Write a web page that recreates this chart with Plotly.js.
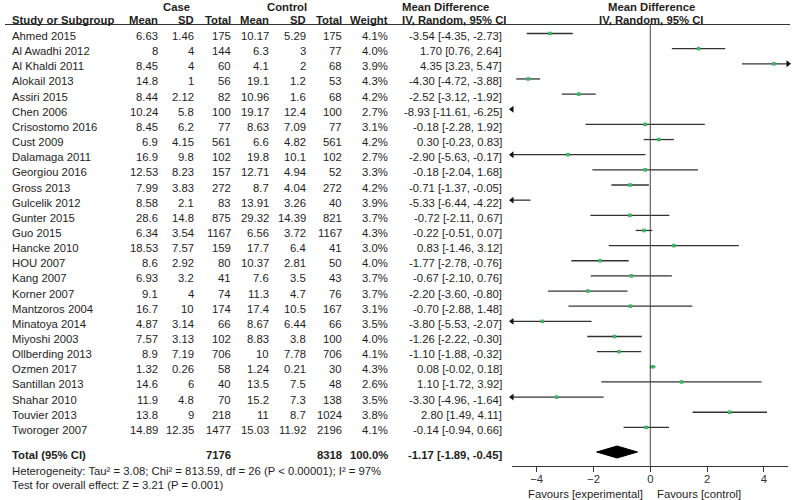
<!DOCTYPE html>
<html><head><meta charset="utf-8">
<script src="https://cdn.plot.ly/plotly-3.0.1.min.js"></script>
<style>html,body{margin:0;padding:0;background:#fff}</style>
</head><body><div id="chart" style="width:800px;height:500px"></div>
<script>
const studies = ["Ahmed 2015","Al Awadhi 2012","Al Khaldi 2011","Alokail 2013","Assiri 2015","Chen 2006","Crisostomo 2016","Cust 2009","Dalamaga 2011","Georgiou 2016","Gross 2013","Gulcelik 2012","Gunter 2015","Guo 2015","Hancke 2010","HOU 2007","Kang 2007","Korner 2007","Mantzoros 2004","Minatoya 2014","Miyoshi 2003","Ollberding 2013","Ozmen 2017","Santillan 2013","Shahar 2010","Touvier 2013","Tworoger 2007"];
const caseMean = [6.63,8,8.45,14.8,8.44,10.24,8.45,6.9,16.9,12.53,7.99,8.58,28.6,6.34,18.53,8.6,6.93,9.1,16.7,4.87,7.57,8.9,1.32,14.6,11.9,13.8,14.89];
const caseSD   = [1.46,4,4,1,2.12,5.8,6.2,4.15,9.8,8.23,3.83,2.1,14.8,3.54,7.57,2.92,3.2,4,10,3.14,3.13,7.19,0.26,6,4.8,9,12.35];
const caseN    = [175,144,60,56,82,100,77,561,102,157,272,83,875,1167,159,80,41,74,174,66,102,706,58,40,70,218,1477];
const ctrlMean = [10.17,6.3,4.1,19.1,10.96,19.17,8.63,6.6,19.8,12.71,8.7,13.91,29.32,6.56,17.7,10.37,7.6,11.3,17.4,8.67,8.83,10,1.24,13.5,15.2,11,15.03];
const ctrlSD   = [5.29,3,2,1.2,1.6,12.4,7.09,4.82,10.1,4.94,4.04,3.26,14.39,3.72,6.4,2.81,3.5,4.7,10.5,6.44,3.8,7.78,0.21,7.5,7.3,8.7,11.92];
const ctrlN    = [175,77,68,53,68,100,77,561,102,52,272,40,821,1167,41,50,43,76,167,66,100,706,30,48,138,1024,2196];
const weight   = [4.1,4.0,3.9,4.3,4.2,2.7,3.1,4.2,2.7,3.3,4.2,3.9,3.7,4.3,3.0,4.0,3.7,3.7,3.1,3.5,4.0,4.1,4.3,2.6,3.5,3.8,4.1];
const md       = [-3.54,1.70,4.35,-4.30,-2.52,-8.93,-0.18,0.30,-2.90,-0.18,-0.71,-5.33,-0.72,-0.22,0.83,-1.77,-0.67,-2.20,-0.70,-3.80,-1.26,-1.10,0.08,1.10,-3.30,2.80,-0.14];
const ciLo     = [-4.35,0.76,3.23,-4.72,-3.12,-11.61,-2.28,-0.23,-5.63,-2.04,-1.37,-6.44,-2.11,-0.51,-1.46,-2.78,-2.10,-3.60,-2.88,-5.53,-2.22,-1.88,-0.02,-1.72,-4.96,1.49,-0.94];
const ciHi     = [-2.73,2.64,5.47,-3.88,-1.92,-6.25,1.92,0.83,-0.17,1.68,-0.05,-4.22,0.67,0.07,3.12,-0.76,0.76,-0.80,1.48,-2.07,-0.30,-0.32,0.18,3.92,-1.64,4.11,0.66];
const totalCaseN = 7176, totalCtrlN = 8318, totalWeight = 100.0;
const totalMD = -1.17, totalLo = -1.89, totalHi = -0.45;
const heterogeneity = "Heterogeneity: Tau² = 3.08; Chi² = 813.59, df = 26 (P < 0.00001); I² = 97%";
const overallTest = "Test for overall effect: Z = 3.21 (P = 0.001)";
const xTicks = [-4,-2,0,2,4];

// ---- layout constants ----
const XMIN = -4.87, XMAX = 4.85;
const W = 800, PH = 466;           // plot height (bottom margin 34)
const ROW0 = 33.5, ROWH = 15.15;   // pixel of first row, row pitch
const yTop = -ROW0/ROWH, yBot = (PH-ROW0)/ROWH;
const TOTAL_Y = (452-ROW0)/ROWH;
const py = p => (PH-p)/PH;         // pixel -> paper y
const FONT = "Liberation Sans, Arial, Helvetica, sans-serif";
const FS = 11.3;
const TXT = "#1e1e1e";

const rows = studies.map((_, i) => i);
const clamp = v => Math.max(XMIN, Math.min(XMAX, v));

// CI lines
const lx = [], ly = [];
rows.forEach(i => { lx.push(clamp(ciLo[i]), clamp(ciHi[i]), null); ly.push(i, i, null); });
const ciTrace = {x: lx, y: ly, mode: 'lines', line: {color: '#333', width: 1.3}, hoverinfo: 'skip'};
const ptTrace = {x: md, y: rows, mode: 'markers', marker: {symbol: 'square', size: 3.6, color: '#3cb864'}, hoverinfo: 'x'};
const leftIdx = rows.filter(i => ciLo[i] < XMIN);
const rightIdx = rows.filter(i => ciHi[i] > XMAX);
const leftArr = {x: leftIdx.map(() => XMIN), y: leftIdx, mode: 'markers', cliponaxis: false,
  marker: {symbol: 'triangle-left', size: 6, color: '#111'}, hoverinfo: 'skip'};
const rightArr = {x: rightIdx.map(() => XMAX), y: rightIdx, mode: 'markers', cliponaxis: false,
  marker: {symbol: 'triangle-right', size: 6, color: '#111'}, hoverinfo: 'skip'};
const dh = 6/ROWH;
const diamond = {x: [totalLo, totalMD, totalHi, totalMD, totalLo], y: [TOTAL_Y, TOTAL_Y-dh, TOTAL_Y, TOTAL_Y+dh, TOTAL_Y],
  mode: 'lines', fill: 'toself', fillcolor: '#000', line: {color: '#000', width: 1}, hoverinfo: 'skip'};

const ann = [];
function t(xpx, y, text, anchor, bold, yref) {
  ann.push({xref: 'paper', yref: yref || 'y', x: xpx/W, y: y, text: bold ? '<b>'+text+'</b>' : text,
    xanchor: anchor, yanchor: 'middle', showarrow: false, borderpad: 0, borderwidth: 0,
    yshift: (yref === 'paper') ? 0 : -2.5, font: {family: FONT, size: FS, color: TXT}});
}
const cols = [158, 194, 231, 269, 306, 342, 388];
rows.forEach(i => {
  t(12, i, studies[i], 'left');
  [caseMean[i], caseSD[i], caseN[i], ctrlMean[i], ctrlSD[i], ctrlN[i]].forEach((v, k) => t(cols[k], i, String(v), 'right'));
  t(cols[6], i, weight[i].toFixed(1) + '%', 'right');
  t(502, i, md[i].toFixed(2) + ' [' + ciLo[i].toFixed(2) + ', ' + ciHi[i].toFixed(2) + ']', 'right');
});
// total row
t(12, TOTAL_Y, 'Total (95% CI)', 'left', true);
t(cols[2], TOTAL_Y, String(totalCaseN), 'right', true);
t(cols[5], TOTAL_Y, String(totalCtrlN), 'right', true);
t(cols[6], TOTAL_Y, totalWeight.toFixed(1) + '%', 'right', true);
t(502, TOTAL_Y, totalMD.toFixed(2) + ' [' + totalLo.toFixed(2) + ', ' + totalHi.toFixed(2) + ']', 'right', true);
// headers
const h1 = py(6.5), h2 = py(20.5);
t(176, h1, 'Case', 'center', true, 'paper');
t(287, h1, 'Control', 'center', true, 'paper');
t(402, h1, 'Mean Difference', 'left', true, 'paper');
t(651, h1, 'Mean Difference', 'center', true, 'paper');
t(12, h2, 'Study or Subgroup', 'left', true, 'paper');
['Mean','SD','Total','Mean','SD','Total','Weight'].forEach((h, k) => t(cols[k], h2, h, 'right', true, 'paper'));
t(402, h2, 'IV, Random, 95% CI', 'left', true, 'paper');
t(651, h2, 'IV, Random, 95% CI', 'center', true, 'paper');
// footers
t(12, py(470.5), heterogeneity, 'left', false, 'paper');
t(12, py(485.5), overallTest, 'left', false, 'paper');
const FAV_Y = py(493.5);
ann.push({xref: 'x', yref: 'paper', x: 0, y: FAV_Y, xshift: -7, text: 'Favours [experimental]', xanchor: 'right', yanchor: 'middle',
  showarrow: false, borderpad: 0, borderwidth: 0, font: {family: FONT, size: FS, color: TXT}});
ann.push({xref: 'x', yref: 'paper', x: 0, y: FAV_Y, xshift: 7, text: 'Favours [control]', xanchor: 'left', yanchor: 'middle',
  showarrow: false, borderpad: 0, borderwidth: 0, font: {family: FONT, size: FS, color: TXT}});

const layout = {
  width: 800, height: 500, margin: {l: 0, r: 0, t: 0, b: 34},
  paper_bgcolor: '#fff', plot_bgcolor: '#fff', showlegend: false,
  font: {family: FONT, size: FS, color: TXT},
  xaxis: {domain: [512/W, 788/W], range: [XMIN, XMAX], tickvals: xTicks, ticks: 'outside', ticklen: 5, tickcolor: '#333',
    ticklabelstandoff: -3,
    showline: true, linecolor: '#333', linewidth: 1, showgrid: false, zeroline: false,
    tickfont: {family: FONT, size: FS, color: '#333'}, fixedrange: true},
  yaxis: {range: [yBot, yTop], visible: false, fixedrange: true},
  shapes: [
    {type: 'line', xref: 'paper', yref: 'paper', x0: 5/W, x1: 790/W, y0: py(24.5), y1: py(24.5), line: {color: '#333', width: 1}},
    {type: 'line', xref: 'x', yref: 'paper', x0: 0, x1: 0, y0: 0, y1: py(25), line: {color: '#444', width: 1}}
  ],
  annotations: ann
};
Plotly.newPlot('chart', [ciTrace, diamond, ptTrace, leftArr, rightArr], layout, {displayModeBar: false, staticPlot: true});
</script></body></html>
